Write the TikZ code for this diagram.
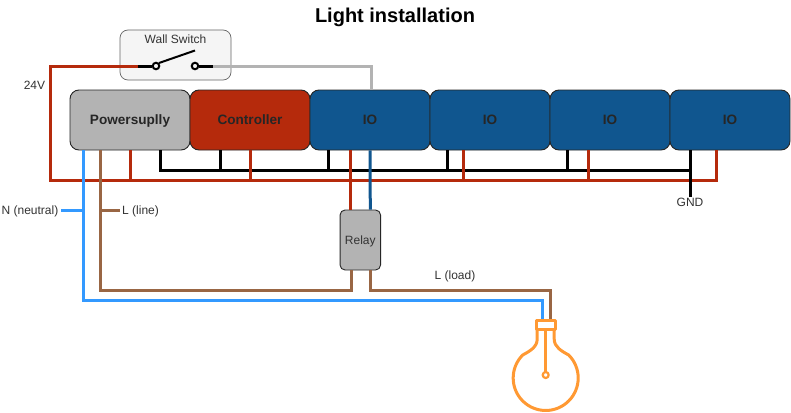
\documentclass[tikz,border=0pt]{standalone}
\usepackage{fontspec}
\setmainfont{Liberation Sans}
\definecolor{wred}{HTML}{B52A0C}
\definecolor{wblue}{HTML}{10568F}
\definecolor{wgray}{HTML}{B3B3B3}
\definecolor{wbrown}{HTML}{996644}
\definecolor{wsky}{HTML}{3399FF}
\definecolor{worange}{HTML}{FF9933}
\definecolor{txt}{HTML}{333333}
\tikzset{
  module/.style={draw=black!85,line width=0.9pt,rounded corners=9pt,minimum width=120pt,minimum height=60pt,inner sep=0pt,font=\fontsize{13.6}{15}\bfseries,text=black!85,text height=10pt,text depth=1pt},
  lbl/.style={font=\fontsize{12}{14}\selectfont,text=txt,inner sep=0pt,text height=9.5pt,text depth=1pt},
  wire/.style={line width=3pt,line cap=butt,line join=miter},
  contact/.style={circle,draw=black,line width=2pt,fill=black!4,minimum size=6.5pt,inner sep=0pt}
}
\begin{document}
\begin{tikzpicture}[x=1pt,y=-1pt]
\useasboundingbox (0,0) rectangle (791,412);
\fill[white] (0,0) rectangle (791,412);
\node[font=\fontsize{20}{22}\bfseries,text height=14pt,text depth=1pt,inner sep=0pt] (title) at (395,16) {Light installation};
% switch box
\node[draw=black!60,line width=0.7pt,fill=black!4,rounded corners=8pt,minimum width=111pt,minimum height=50pt,inner sep=0pt] (sw) at (175.5,55) {};
\node[lbl] (swt) at (175.5,39.5) {Wall Switch};
\node[contact] (c1) at (156,66) {};
\node[contact] (c2) at (195,66) {};
\coordinate (armend) at (195,50.5);
\coordinate (r0) at (138,66);
\coordinate (g0) at (213,66);
% modules
\node[module,fill=wgray] (ps) at (130,120) {Powersuplly};
\node[module,fill=wred] (ct) at (250,120) {Controller};
\node[module,fill=wblue] (io1) at (370,120) {IO};
\node[module,fill=wblue] (io2) at (490,120) {IO};
\node[module,fill=wblue] (io3) at (610,120) {IO};
\node[module,fill=wblue] (io4) at (730,120) {IO};
\node[draw=black!85,line width=0.9pt,fill=wgray,rounded corners=5pt,minimum width=40.5pt,minimum height=60pt,inner sep=0pt,lbl] (rel) at (360.3,240) {Relay};
% labels
\node[lbl] (v24) at (34.5,85) {24V};
\node[lbl,anchor=east] (nn) at (58.5,210) {N (neutral)};
\node[lbl,anchor=west] (ll) at (122,210) {L (line)};
\node[lbl] (gnd) at (690,202.5) {GND};
\node[lbl] (load) at (455,275) {L (load)};
% black bus
\draw[wire] ([xshift=30]ps.south) -- ++(0,20) -| ([xshift=-40]io4.south);
\draw[wire] ([xshift=-30]ct.south) -- ++(0,20);
\draw[wire] ([xshift=-41.5]io1.south) -- ++(0,20);
\draw[wire] ([xshift=-42.5]io2.south) -- ++(0,20);
\draw[wire] ([xshift=-43]io3.south) -- ++(0,20);
% red bus
\draw[wire,wred] (r0) -| (50.5,180) -| ([xshift=-14]io4.south);
\draw[wire,wred] (ps.south) -- ++(0,30);
\draw[wire,wred] (ct.south) -- ++(0,30);
\draw[wire,wred] ([xshift=-19.7]io1.south) -- ([xshift=-10]rel.north);
\draw[wire,wred] ([xshift=-26.5]io2.south) -- ++(0,30);
\draw[wire,wred] ([xshift=-22]io3.south) -- ++(0,30);
% GND stub
\draw[wire] ([xshift=-40]io4.south) -- (gnd.north);
% gray, blue
\draw[wire,wgray] (g0) -| ([xshift=1]io1.north);
\draw[wire,wblue] (io1.south) -- ([xshift=10]rel.north);
% mains
\draw[wire,wsky] ([xshift=-46.5]ps.south) |- (542.5,300) -- (542.5,320);
\draw[wire,wsky] (nn.east) ++(2.5,0) -- (83.5,210);
\draw[wire,wbrown] ([xshift=-29.5]ps.south) |- (351,290) -- ([xshift=-9.3]rel.south);
\draw[wire,wbrown] (100.5,210) -- ([xshift=-2]ll.west);
\draw[wire,wbrown] ([xshift=10.2]rel.south) |- (550.5,290) -- (550.5,320);
% switch wires
\draw[wire] (r0) -- (c1.west);
\draw[wire] (c2.east) -- (g0);
\draw[black,line width=2pt] (c1.north east) -- (armend);
% lamp
\begin{scope}[worange,line width=3pt,line join=round]
\draw (536.5,320) rectangle (555,329);
\draw (545.7,329) -- (545.7,372);
\draw[line width=2.2pt] (545.7,375) circle (3pt);
\draw (537.2,329) -- (537.2,339) .. controls (537.2,347) and (530,351) .. (522.7,355)
  arc[start angle=135,end angle=405,radius=32.5pt]
  .. controls (561.4,351) and (554.2,347) .. (554.2,339) -- (554.2,329);
\end{scope}
\end{tikzpicture}
\end{document}
